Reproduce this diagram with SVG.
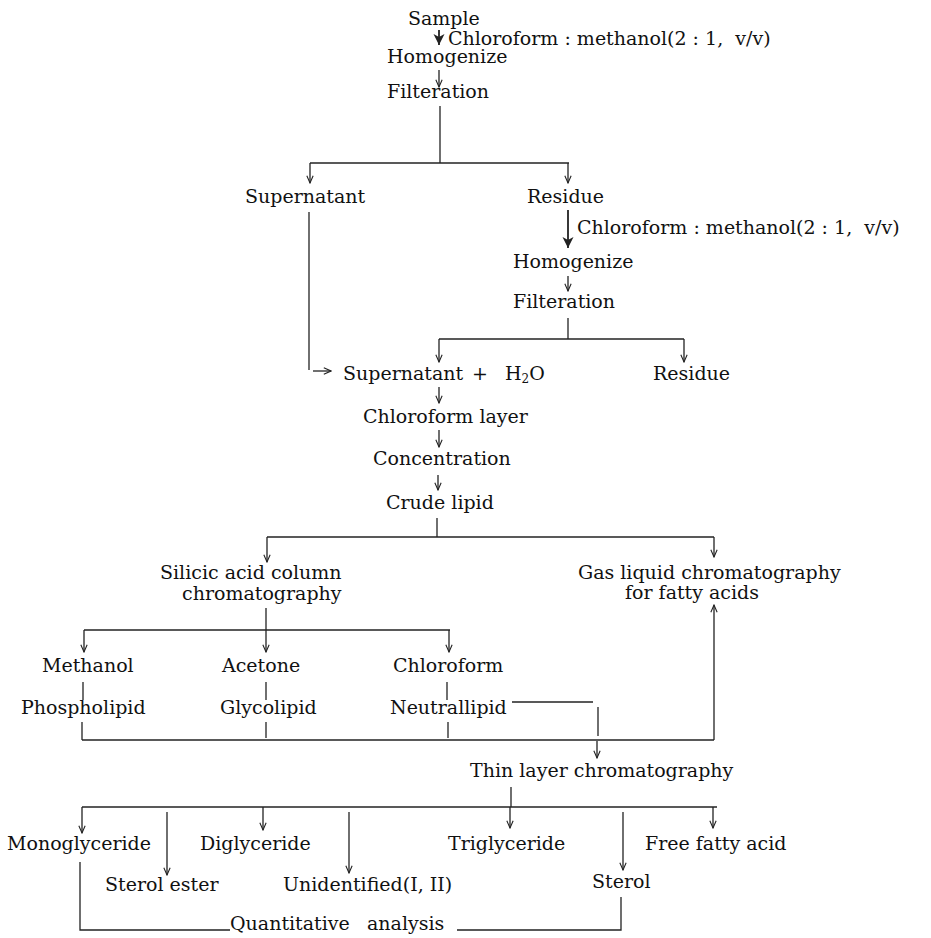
<svg xmlns="http://www.w3.org/2000/svg" width="931" height="938" viewBox="0 0 931 938">
<defs>
<marker id="a" markerUnits="userSpaceOnUse" viewBox="0 0 10 10" refX="9" refY="5" markerWidth="9" markerHeight="9" orient="auto">
<path d="M1,1.5 L9,5 L1,8.5" fill="none" stroke="#222" stroke-width="1.2"/>
</marker>
<marker id="h" markerUnits="userSpaceOnUse" viewBox="0 0 12 12" refX="11" refY="6" markerWidth="12" markerHeight="12" orient="auto">
<path d="M0,0.5 L11,6 L0,11.5 L3,6 z" fill="#222"/>
</marker>
<style>
text{font-family:"DejaVu Serif","Liberation Serif",serif;font-size:19px;fill:#111}
.c line,.c polyline{stroke:#222;stroke-width:1.3;fill:none}
.c .ar{marker-end:url(#a)}
.c .hv{marker-end:url(#h);stroke-width:1.8}
</style>
</defs>
<rect width="931" height="938" fill="#fff"/>
<g class="c" id="connectors">
<line class="hv" x1="439" y1="30" x2="439" y2="45"/>
<line class="ar" x1="439" y1="70" x2="439" y2="87"/>
<line x1="440" y1="106" x2="440" y2="163"/>
<line x1="310" y1="163" x2="569" y2="163"/>
<line class="ar" x1="310" y1="163" x2="310" y2="183"/>
<line class="ar" x1="568" y1="163" x2="568" y2="183"/>
<line class="hv" x1="568" y1="210" x2="568" y2="248"/>
<line class="ar" x1="568" y1="276" x2="568" y2="291"/>
<line x1="568" y1="318" x2="568" y2="339"/>
<line x1="439" y1="339" x2="684" y2="339"/>
<line class="ar" x1="439" y1="339" x2="439" y2="362"/>
<line class="ar" x1="684" y1="339" x2="684" y2="362"/>
<line x1="309" y1="212" x2="309" y2="370"/>
<line class="ar" x1="313" y1="371" x2="331" y2="371"/>
<line class="ar" x1="439" y1="387" x2="439" y2="403"/>
<line class="ar" x1="439" y1="430" x2="439" y2="447"/>
<line class="ar" x1="438" y1="475" x2="438" y2="490"/>
<line x1="437" y1="518" x2="437" y2="537"/>
<line x1="267" y1="537" x2="714" y2="537"/>
<line class="ar" x1="267" y1="537" x2="267" y2="562"/>
<line class="ar" x1="714" y1="537" x2="714" y2="557"/>
<line x1="266" y1="608" x2="266" y2="630"/>
<line x1="84" y1="630" x2="450" y2="630"/>
<line class="ar" x1="84" y1="630" x2="84" y2="652"/>
<line class="ar" x1="266" y1="630" x2="266" y2="652"/>
<line class="ar" x1="449" y1="630" x2="449" y2="652"/>
<line x1="83" y1="682" x2="83" y2="700"/>
<line x1="266" y1="682" x2="266" y2="700"/>
<line x1="447" y1="682" x2="447" y2="700"/>
<line x1="82" y1="722" x2="82" y2="740"/>
<line x1="266" y1="722" x2="266" y2="738"/>
<line x1="448" y1="722" x2="448" y2="738"/>
<line x1="82" y1="740" x2="714" y2="740"/>
<line x1="512" y1="702" x2="593" y2="702"/>
<line x1="598" y1="707" x2="598" y2="736"/>
<line class="ar" x1="597" y1="741" x2="597" y2="758"/>
<line class="ar" x1="714" y1="740" x2="714" y2="605"/>
<line x1="511" y1="787" x2="511" y2="807"/>
<line x1="82" y1="807" x2="717" y2="807"/>
<line class="ar" x1="82" y1="807" x2="82" y2="833"/>
<line class="ar" x1="167" y1="812" x2="167" y2="875"/>
<line class="ar" x1="263" y1="807" x2="263" y2="830"/>
<line class="ar" x1="349" y1="812" x2="349" y2="873"/>
<line class="ar" x1="510" y1="807" x2="510" y2="828"/>
<line class="ar" x1="623" y1="812" x2="623" y2="870"/>
<line class="ar" x1="713" y1="807" x2="713" y2="828"/>
<polyline points="80,862 80,930 230,930"/>
<polyline points="457,930 621,930 621,897"/>
</g>
<g id="n-sample"><text x="408" y="25">Sample</text></g>
<g id="n-reagent1"><text x="448" y="45">Chloroform : methanol(2 : 1,&#160; v/v)</text></g>
<g id="n-homogenize1"><text x="387" y="63">Homogenize</text></g>
<g id="n-filteration1"><text x="387" y="98">Filteration</text></g>
<g id="n-supernatant1"><text x="245" y="203">Supernatant</text></g>
<g id="n-residue1"><text x="527" y="203">Residue</text></g>
<g id="n-reagent2"><text x="577" y="234">Chloroform : methanol(2 : 1,&#160; v/v)</text></g>
<g id="n-homogenize2"><text x="513" y="268">Homogenize</text></g>
<g id="n-filteration2"><text x="513" y="308">Filteration</text></g>
<g id="n-supernatant-h2o"><text x="343" y="380">Supernatant</text><text x="472" y="380" font-size="22">+</text><text x="505" y="380">H<tspan font-size="12" dy="3">2</tspan><tspan dy="-3">O</tspan></text></g>
<g id="n-residue2"><text x="653" y="380">Residue</text></g>
<g id="n-chloroform-layer"><text x="363" y="423">Chloroform layer</text></g>
<g id="n-concentration"><text x="373" y="465">Concentration</text></g>
<g id="n-crude-lipid"><text x="386" y="509">Crude lipid</text></g>
<g id="n-silicic"><text x="160" y="579">Silicic acid column</text><text x="182" y="600">chromatography</text></g>
<g id="n-glc"><text x="578" y="579">Gas liquid chromatography</text><text x="625" y="599">for fatty acids</text></g>
<g id="n-methanol"><text x="42" y="672">Methanol</text></g>
<g id="n-acetone"><text x="222" y="672">Acetone</text></g>
<g id="n-chloroform"><text x="393" y="672">Chloroform</text></g>
<g id="n-phospholipid"><text x="21" y="714">Phospholipid</text></g>
<g id="n-glycolipid"><text x="220" y="714">Glycolipid</text></g>
<g id="n-neutrallipid"><text x="390" y="714">Neutrallipid</text></g>
<g id="n-tlc"><text x="470" y="777">Thin layer chromatography</text></g>
<g id="n-monoglyceride"><text x="7" y="850">Monoglyceride</text></g>
<g id="n-diglyceride"><text x="200" y="850">Diglyceride</text></g>
<g id="n-triglyceride"><text x="448" y="850">Triglyceride</text></g>
<g id="n-ffa"><text x="645" y="850">Free fatty acid</text></g>
<g id="n-sterol-ester"><text x="105" y="891">Sterol ester</text></g>
<g id="n-unidentified"><text x="283" y="891">Unidentified(I, II)</text></g>
<g id="n-sterol"><text x="592" y="888">Sterol</text></g>
<g id="n-quant"><text x="230" y="930">Quantitative</text><text x="367" y="930">analysis</text></g>
</svg>
